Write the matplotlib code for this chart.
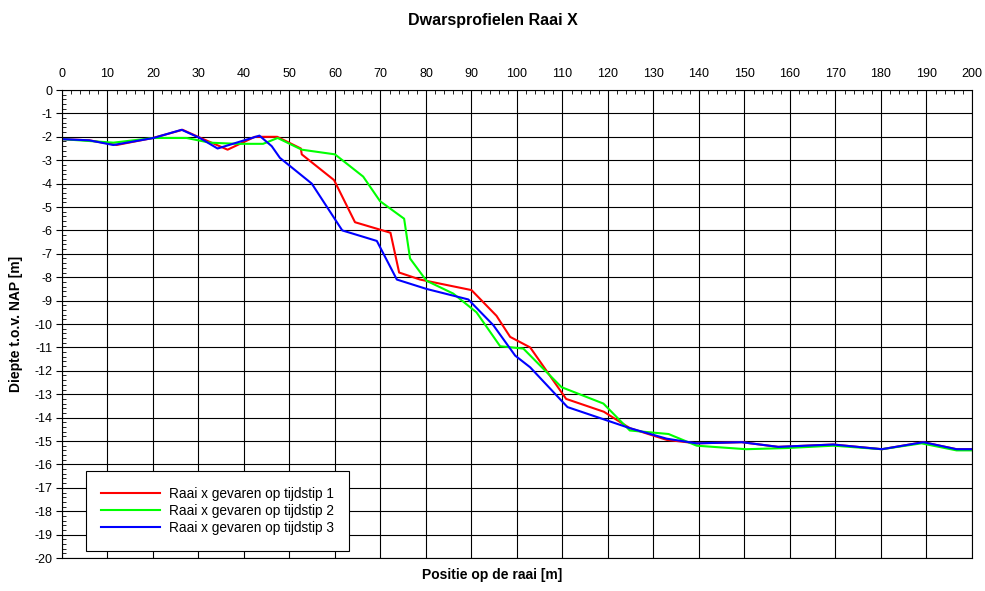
import matplotlib.pyplot as plt
from matplotlib.ticker import MultipleLocator

plt.rcParams['font.family'] = ['Liberation Sans', 'DejaVu Sans']
plt.rcParams['axes.unicode_minus'] = False

# raai x, tijdstip 1
x1 = [0, 6, 12, 20, 26.5, 30.5, 36.4, 42.4, 47.3, 52.5, 52.7, 59.8, 64.4, 72.2, 74.1, 78.7,
      90.0, 95.5, 98.5, 102.9, 110.8, 119.1, 124.8, 132.9, 139.5, 149.4, 157.4, 169.5,
      180.2, 189.3, 196.6, 200]
y1 = [-2.1, -2.15, -2.35, -2.05, -1.7, -2.05, -2.55, -2.0, -2.0, -2.5, -2.75, -3.85, -5.65,
      -6.1, -7.8, -8.1, -8.55, -9.65, -10.55, -11.0, -13.2, -13.75, -14.45, -14.95, -15.1,
      -15.05, -15.25, -15.15, -15.35, -15.05, -15.35, -15.35]

# tijdstip 2
x2 = [0, 11.3, 20.1, 27.4, 32.5, 38.4, 44.2, 47.4, 52.7, 60.0, 66.2, 69.9, 75.2, 76.5, 80.1,
      86.0, 91.1, 96.3, 101.4, 109.8, 119.0, 124.8, 133.3, 139.5, 150.4, 159.3, 169.5, 180.2,
      188.9, 196.6, 200]
y2 = [-2.1, -2.25, -2.05, -2.05, -2.25, -2.3, -2.3, -2.05, -2.55, -2.75, -3.7, -4.75, -5.5,
      -7.2, -8.15, -8.7, -9.5, -10.95, -11.05, -12.7, -13.4, -14.55, -14.7, -15.2, -15.35,
      -15.3, -15.2, -15.35, -15.1, -15.4, -15.4]

# tijdstip 3
x3 = [0, 6, 11.3, 20.1, 26.3, 30.3, 34.2, 43.4, 46.1, 47.9, 54.9, 61.6, 69.2, 73.6, 80.1,
      89.3, 94.8, 99.6, 102.9, 111.1, 124.8, 132.9, 139.5, 149.4, 157.4, 169.5, 180.2, 189.3,
      196.6, 200]
y3 = [-2.1, -2.15, -2.35, -2.05, -1.7, -2.05, -2.5, -1.95, -2.4, -2.9, -4.0, -6.0, -6.45,
      -8.1, -8.5, -8.95, -10.05, -11.35, -11.85, -13.55, -14.45, -14.9, -15.1, -15.05, -15.25,
      -15.15, -15.35, -15.05, -15.35, -15.35]

labels = ['Raai x gevaren op tijdstip 1', 'Raai x gevaren op tijdstip 2',
          'Raai x gevaren op tijdstip 3']

fig = plt.figure(figsize=(9.85, 5.91), dpi=100)
ax = fig.add_axes([0.0629, 0.0558, 0.9239, 0.7919])

ax.plot(x1, y1, color='#ff0000', lw=1.5, label=labels[0])
ax.plot(x2, y2, color='#00ff00', lw=1.5, label=labels[1])
ax.plot(x3, y3, color='#0000ff', lw=1.5, label=labels[2])

ax.set_xlim(0, 200)
ax.set_ylim(-20, 0)
ax.xaxis.set_major_locator(MultipleLocator(10))
ax.xaxis.set_minor_locator(MultipleLocator(2))
ax.yaxis.set_major_locator(MultipleLocator(1))
ax.yaxis.set_minor_locator(MultipleLocator(0.2))
ax.xaxis.tick_top()
ax.tick_params(axis='x', which='major', labelsize=9, length=0, pad=7)
ax.tick_params(axis='y', which='major', labelsize=9, length=4, direction='out', pad=3)
ax.tick_params(axis='both', which='minor', length=3, direction='in')
ax.grid(True, which='major', color='black', lw=0.8)
for s in ax.spines.values():
    s.set_color('black')
    s.set_linewidth(0.8)

fig.text(0.5, 0.966, 'Dwarsprofielen Raai X', ha='center', va='center',
         fontsize=11.5, fontweight='bold')
fig.text(0.5, 0.027, 'Positie op de raai [m]', ha='center', va='center',
         fontsize=10, fontweight='bold')
fig.text(0.016, 0.452, 'Diepte t.o.v. NAP [m]', ha='center', va='center',
         rotation=90, fontsize=10, fontweight='bold')

leg = ax.legend(loc='lower left', bbox_to_anchor=(0.026, 0.0156), fontsize=9.8,
                handlelength=4.3, handletextpad=0.66, borderpad=1.15, labelspacing=0.22,
                fancybox=False, framealpha=1, edgecolor='black', borderaxespad=0)
leg.get_frame().set_linewidth(0.8)

plt.savefig('out.png', dpi=100)
